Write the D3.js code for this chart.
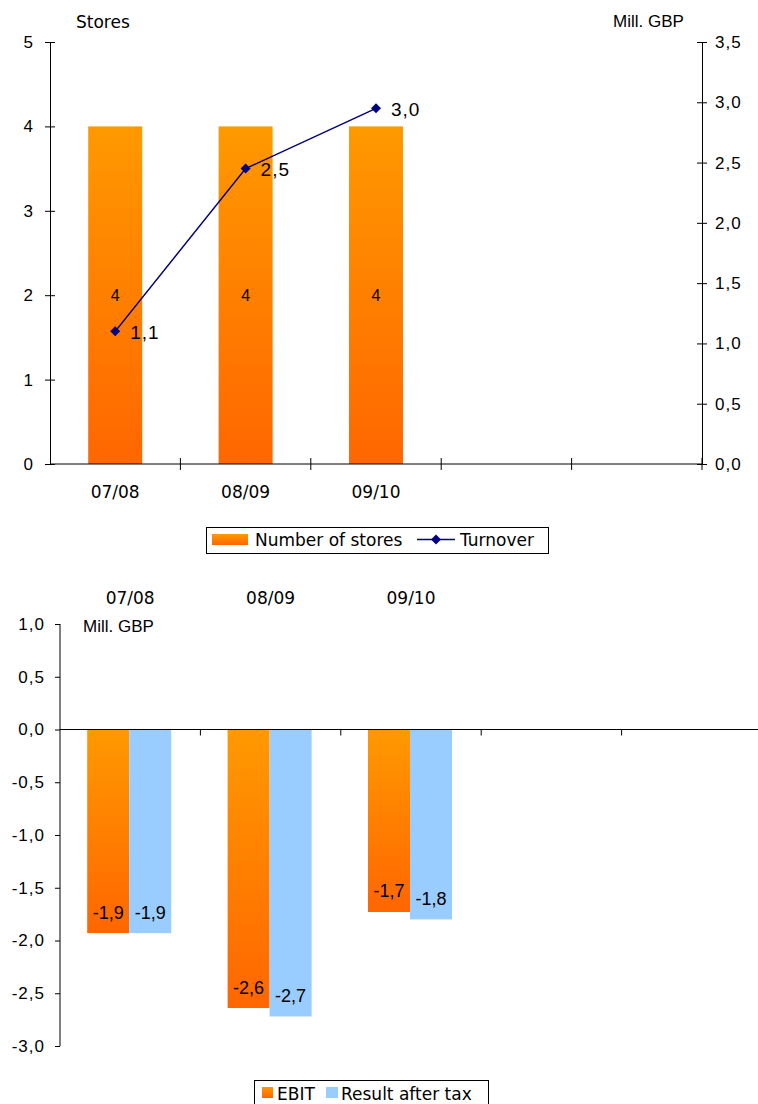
<!DOCTYPE html>
<html>
<head>
<meta charset="utf-8">
<script src="https://cdn.jsdelivr.net/npm/d3@7"></script>
<style>
  html, body { margin: 0; padding: 0; background: #fff; }
  svg { display: block; }
  text { fill: #000; }
</style>
</head>
<body>
<svg id="chart" width="758" height="1104"></svg>
<script>
// Store and turnover figures per financial year
const categories = ["07/08", "08/09", "09/10", "", ""];
const storeCounts = [4, 4, 4];
const turnover = [1.1, 2.45, 2.95];
const storeTicks = [0, 1, 2, 3, 4, 5];
const turnoverTicks = [0, 0.5, 1.0, 1.5, 2.0, 2.5, 3.0, 3.5];

// Profitability per financial year (Mill. GBP)
const ebit = [-1.93, -2.64, -1.73];
const resultAfterTax = [-1.93, -2.72, -1.80];
const profitTicks = [1.0, 0.5, 0.0, -0.5, -1.0, -1.5, -2.0, -2.5, -3.0];

const fmt1 = v => d3.format(".1f")(v).replace(".", ",").replace("−", "-");
const SANS = "'DejaVu Sans', Verdana, sans-serif";
const ARIAL = "'Liberation Sans', Arial, sans-serif";

const svg = d3.select("#chart");
const defs = svg.append("defs");

function vGrad(id, c0, c1) {
  const g = defs.append("linearGradient").attr("id", id)
    .attr("x1", 0).attr("y1", 0).attr("x2", 0).attr("y2", 1);
  g.append("stop").attr("offset", "0%").attr("stop-color", c0);
  g.append("stop").attr("offset", "100%").attr("stop-color", c1);
}
vGrad("orangeGrad", "#FF9900", "#FF6600");

function tickText(sel) {
  sel.attr("font-family", ARIAL).attr("font-size", 17)
    .style("letter-spacing", "1px").attr("fill", "#000");
}

// diamond marker: a square turned 45 degrees
const diamond = d3.symbol().type(d3.symbolSquare).size(50);

/* ---------------- Upper chart: stores and turnover ---------------- */
const upper = svg.append("g");
const x1 = d3.scaleBand().domain(d3.range(categories.length)).range([50, 702]);
const yStores = d3.scaleLinear().domain([0, 5]).range([464, 42]);
const yTurn = d3.scaleLinear().domain([0, 3.5]).range([464, 42]);

// bars
const barW1 = x1.bandwidth() * 0.414;
upper.selectAll("rect.store").data(storeCounts).join("rect")
  .attr("class", "store")
  .attr("x", (d, i) => x1(i) + x1.bandwidth() / 2 - barW1 / 2)
  .attr("y", d => yStores(d))
  .attr("width", barW1)
  .attr("height", d => yStores(0) - yStores(d))
  .attr("fill", "url(#orangeGrad)");

upper.selectAll("text.storeLbl").data(storeCounts).join("text")
  .attr("class", "storeLbl")
  .attr("x", (d, i) => x1(i) + x1.bandwidth() / 2)
  .attr("y", d => yStores(d / 2))
  .attr("dy", "0.38em")
  .attr("text-anchor", "middle")
  .attr("font-family", ARIAL).attr("font-size", 16)
  .text(d => d);

// left axis
const leftAxis = d3.axisLeft(yStores).tickValues(storeTicks).tickSize(0).tickPadding(16)
  .tickFormat(d3.format("d"));
const gl = upper.append("g").attr("transform", "translate(50,0)").call(leftAxis);
gl.select(".domain").attr("stroke", "#000");
gl.selectAll(".tick").append("line").attr("x1", -5).attr("x2", 5).attr("stroke", "#000");
gl.selectAll("text").call(tickText);

// right axis
const rightAxis = d3.axisRight(yTurn).tickValues(turnoverTicks).tickSize(0).tickPadding(13)
  .tickFormat(fmt1);
const gr = upper.append("g").attr("transform", "translate(702,0)").call(rightAxis);
gr.select(".domain").attr("stroke", "#000");
gr.selectAll(".tick").append("line").attr("x1", -5).attr("x2", 5).attr("stroke", "#000");
gr.selectAll("text").call(tickText);

// category axis
upper.append("line").attr("x1", 50).attr("x2", 702).attr("y1", 464).attr("y2", 464)
  .attr("stroke", "#000");
upper.selectAll("line.catTick").data(d3.range(1, categories.length + 1)).join("line")
  .attr("class", "catTick")
  .attr("x1", i => x1.range()[0] + i * x1.step()).attr("x2", i => x1.range()[0] + i * x1.step())
  .attr("y1", 458).attr("y2", 470).attr("stroke", "#000");
upper.selectAll("text.cat").data(categories).join("text")
  .attr("class", "cat")
  .attr("x", (d, i) => x1(i) + x1.bandwidth() / 2)
  .attr("y", 498)
  .attr("text-anchor", "middle")
  .attr("font-family", SANS).attr("font-size", 17)
  .text(d => d);

// axis titles
upper.append("text").attr("x", 76).attr("y", 28)
  .attr("font-family", SANS).attr("font-size", 17).text("Stores");
upper.append("text").attr("x", 613).attr("y", 27)
  .attr("font-family", ARIAL).attr("font-size", 17).text("Mill. GBP");

// turnover line
const line = d3.line()
  .x((d, i) => x1(i) + x1.bandwidth() / 2)
  .y(d => yTurn(d));
upper.append("path").datum(turnover).attr("d", line)
  .attr("fill", "none").attr("stroke", "#000080").attr("stroke-width", 1.5);
upper.selectAll("path.pt").data(turnover).join("path")
  .attr("class", "pt")
  .attr("d", diamond)
  .attr("transform", (d, i) => `translate(${x1(i) + x1.bandwidth() / 2},${yTurn(d)}) rotate(45)`)
  .attr("fill", "#000080");
upper.selectAll("text.turnLbl").data(turnover).join("text")
  .attr("class", "turnLbl")
  .attr("x", (d, i) => x1(i) + x1.bandwidth() / 2 + 15)
  .attr("y", d => yTurn(d))
  .attr("dy", "0.38em")
  .attr("font-family", ARIAL).attr("font-size", 19).style("letter-spacing", "1px")
  .text(fmt1);

// legend
const lg1 = upper.append("g");
lg1.append("rect").attr("x", 206.5).attr("y", 527.5).attr("width", 342).attr("height", 26)
  .attr("fill", "#fff").attr("stroke", "#000");
lg1.append("rect").attr("x", 212).attr("y", 534).attr("width", 36).attr("height", 11)
  .attr("fill", "url(#orangeGrad)");
lg1.append("text").attr("x", 255).attr("y", 546)
  .attr("font-family", SANS).attr("font-size", 17).text("Number of stores");
lg1.append("line").attr("x1", 417).attr("x2", 455).attr("y1", 539.5).attr("y2", 539.5)
  .attr("stroke", "#000080").attr("stroke-width", 1.5);
lg1.append("path").attr("d", diamond).attr("transform", "translate(436,539.5) rotate(45)").attr("fill", "#000080");
lg1.append("text").attr("x", 460).attr("y", 546)
  .attr("font-family", SANS).attr("font-size", 17).text("Turnover");

/* ---------------- Lower chart: EBIT and result after tax ---------------- */
const lower = svg.append("g");
const x2 = d3.scaleBand().domain(d3.range(categories.length)).range([60, 762]);
const y2 = d3.scaleLinear().domain([-3, 1]).range([1046, 624]);
const barW2 = 42;

const seriesList = [
  { key: "EBIT", values: ebit, fill: "url(#orangeGrad)", offset: -1 },
  { key: "Result after tax", values: resultAfterTax, fill: "#99CCFF", offset: 0 }
];

seriesList.forEach(s => {
  lower.selectAll(null).data(s.values).join("rect")
    .attr("x", (d, i) => x2(i) + x2.bandwidth() / 2 + s.offset * barW2 - 1)
    .attr("y", d => y2(Math.max(0, d)))
    .attr("width", barW2)
    .attr("height", d => Math.abs(y2(d) - y2(0)))
    .attr("fill", s.fill);
});
seriesList.forEach(s => {
  lower.selectAll(null).data(s.values).join("text")
    .attr("x", (d, i) => x2(i) + x2.bandwidth() / 2 + s.offset * barW2 + barW2 / 2 - 1)
    .attr("y", d => y2(d) - 21)
    .attr("dy", "0.36em")
    .attr("text-anchor", "middle")
    .attr("font-family", ARIAL).attr("font-size", 18)
    .text(fmt1);
});

// left axis
const axis2 = d3.axisLeft(y2).tickValues(profitTicks).tickSize(5).tickPadding(10).tickFormat(fmt1);
const ga2 = lower.append("g").attr("transform", "translate(60,0)").call(axis2);
ga2.select(".domain").attr("stroke", "#000").attr("d", "M0,624V1046");
ga2.selectAll(".tick line").attr("stroke", "#000");
ga2.selectAll("text").call(tickText);

// zero line with category ticks
lower.append("line").attr("x1", 60).attr("x2", 758).attr("y1", y2(0)).attr("y2", y2(0))
  .attr("stroke", "#000");
lower.selectAll("line.catTick").data(d3.range(1, categories.length)).join("line")
  .attr("class", "catTick")
  .attr("x1", i => x2.range()[0] + i * x2.step()).attr("x2", i => x2.range()[0] + i * x2.step())
  .attr("y1", y2(0)).attr("y2", y2(0) + 6).attr("stroke", "#000");

// category labels above the plot
lower.selectAll("text.cat").data(categories).join("text")
  .attr("class", "cat")
  .attr("x", (d, i) => x2(i) + x2.bandwidth() / 2)
  .attr("y", 604)
  .attr("text-anchor", "middle")
  .attr("font-family", SANS).attr("font-size", 17)
  .text(d => d);

lower.append("text").attr("x", 83).attr("y", 632)
  .attr("font-family", ARIAL).attr("font-size", 17).text("Mill. GBP");

// legend
const lg2 = lower.append("g");
lg2.append("rect").attr("x", 254.5).attr("y", 1080.5).attr("width", 234).attr("height", 30)
  .attr("fill", "#fff").attr("stroke", "#000");
lg2.append("rect").attr("x", 262).attr("y", 1087).attr("width", 11).attr("height", 11)
  .attr("fill", "url(#orangeGrad)");
lg2.append("text").attr("x", 277).attr("y", 1100)
  .attr("font-family", SANS).attr("font-size", 17).text("EBIT");
lg2.append("rect").attr("x", 326).attr("y", 1087).attr("width", 12).attr("height", 11)
  .attr("fill", "#99CCFF");
lg2.append("text").attr("x", 341).attr("y", 1100)
  .attr("font-family", SANS).attr("font-size", 17).text("Result after tax");
</script>
</body>
</html>
